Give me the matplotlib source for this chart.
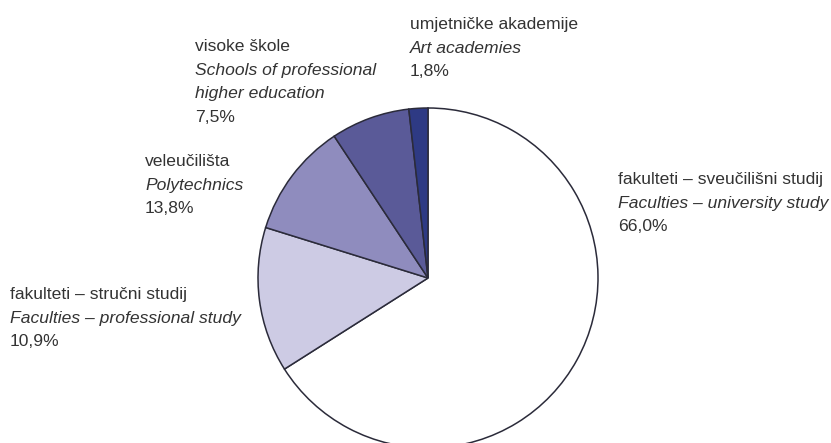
import matplotlib
matplotlib.use("Agg")
import matplotlib.pyplot as plt

# Slice values as drawn (clockwise from top)
slice_values = [66.0, 13.8, 10.9, 7.5, 1.8]
slice_colors = ["#ffffff", "#cdcbe4", "#8f8cbe", "#5a5a98", "#2e3a84"]

# Labels (Croatian, English, percentage)
labels_hr = ["fakulteti – sveučilišni studij", "fakulteti – stručni studij",
             "veleučilišta", "visoke škole", "umjetničke akademije"]
labels_en = ["Faculties – university study", "Faculties – professional study",
             "Polytechnics", "Schools of professional\nhigher education", "Art academies"]
labels_pct = ["66,0%", "10,9%", "13,8%", "7,5%", "1,8%"]

W, H = 831, 443
fig = plt.figure(figsize=(W / 100, H / 100), dpi=100)
ax = fig.add_axes([0, 0, 1, 1])

cx, cy, r = 428, H - 278, 170
ax.pie(slice_values, colors=slice_colors, startangle=90, counterclock=False,
       center=(cx, cy), radius=r, frame=True,
       wedgeprops=dict(edgecolor="#2b2b3a", linewidth=1.1))
ax.set_xlim(0, W)
ax.set_ylim(0, H)
ax.set_aspect("auto")
ax.axis("off")

# label anchor: (left x, first line centre y in image px)
anchors = [(618, 178), (10, 293), (145, 160), (195, 45), (410, 23)]
fs = 12.6
step = 23.7
font = "Liberation Sans"
for hr, en, pct, (x, y) in zip(labels_hr, labels_en, labels_pct, anchors):
    lines = [(hr, "normal")] + [(l, "italic") for l in en.split("\n")] + [(pct, "normal")]
    for i, (txt, st) in enumerate(lines):
        yy = y + i * step + 6
        ax.text(x, H - yy, txt, fontsize=fs, fontstyle=st, family=font,
                color="#333333", ha="left", va="baseline")

fig.savefig("out.png", dpi=100)
